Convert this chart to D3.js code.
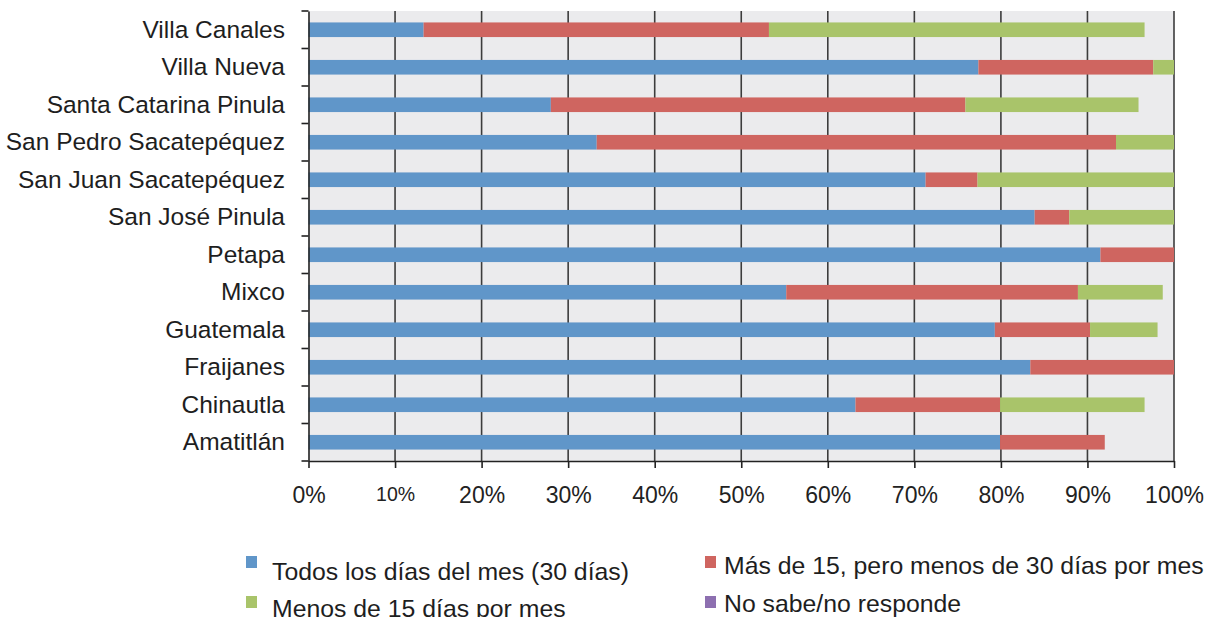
<!DOCTYPE html>
<html>
<head>
<meta charset="utf-8">
<script src="https://cdn.jsdelivr.net/npm/d3@7"></script>
<style>
  body { margin: 0; background: #fff; }
  svg { display: block; font-family: "Liberation Sans", Arial, Helvetica, sans-serif; }
</style>
</head>
<body>
<svg id="chart" width="1207" height="617"></svg>
<script>

// data (percent of respondents)
var municipios = ["Villa Canales", "Villa Nueva", "Santa Catarina Pinula", "San Pedro Sacatepéquez",
  "San Juan Sacatepéquez", "San José Pinula", "Petapa", "Mixco", "Guatemala", "Fraijanes",
  "Chinautla", "Amatitlán"];

var todos   = [13.3, 77.4, 28.0, 33.3, 71.3, 83.9, 91.5, 55.2, 79.3, 83.4, 63.2, 79.9];
var mas15   = [39.9, 20.2, 47.9, 60.0,  6.0,  4.0,  8.5, 33.7, 11.0, 16.6, 16.7, 12.1];
var menos15 = [43.4,  2.4, 20.0,  6.7, 22.7, 12.1,  0.0,  9.8,  7.8,  0.0, 16.7,  0.0];
var nosabe  = [ 0.0,  0.0,  0.0,  0.0,  0.0,  0.0,  0.0,  0.0,  0.0,  0.0,  0.0,  0.0];

var seriesNames = ["Todos los días del mes (30 días)", "Más de 15, pero menos de 30 días por mes",
  "Menos de 15 días por mes", "No sabe/no responde"];
var seriesColors = ["#6096c9", "#cf6560", "#a9c46a", "#8d6fb0"];
var xTicks = [0, 10, 20, 30, 40, 50, 60, 70, 80, 90, 100];

var margin = { left: 308.5, top: 11 };
var w = 865.5, h = 450;

var svg = d3.select("#chart");
var g = svg.append("g").attr("transform", "translate(" + margin.left + "," + margin.top + ")");

var x = d3.scaleLinear().domain([0, 100]).range([0, w]);
var y = d3.scaleBand().domain(municipios).range([0, h]).paddingInner(0.61).paddingOuter(0.305);

// table for the stack
var keys = ["todos", "mas15", "menos15", "nosabe"];
var rows = municipios.map(function(m, i) {
  return { name: m, todos: todos[i], mas15: mas15[i], menos15: menos15[i], nosabe: nosabe[i] };
});
var stacked = d3.stack().keys(keys)(rows);

g.append("rect")
  .attr("width", w).attr("height", h)
  .attr("fill", "#ebebed");

// vertical grid
g.selectAll("line.grid")
  .data(xTicks.slice(1))
  .enter().append("line")
  .attr("class", "grid")
  .attr("x1", function(d) { return x(d); })
  .attr("x2", function(d) { return x(d); })
  .attr("y1", 0).attr("y2", h)
  .attr("stroke", "#3c3c3c")
  .attr("stroke-width", 1.6);

g.selectAll("g.serie")
  .data(stacked)
  .enter().append("g")
  .attr("class", "serie")
  .attr("fill", function(d, i) { return seriesColors[i]; })
  .selectAll("rect")
  .data(function(d) { return d; })
  .enter().append("rect")
  .attr("x", function(d) { return x(d[0]); })
  .attr("width", function(d) { return x(d[1]) - x(d[0]); })
  .attr("y", function(d) { return y(d.data.name); })
  .attr("height", y.bandwidth());

// x axis
var xAxis = g.append("g")
  .attr("transform", "translate(0," + h + ")")
  .call(d3.axisBottom(x).tickValues(xTicks)
    .tickFormat(function(d) { return d + "%"; })
    .tickSize(7).tickPadding(19).tickSizeOuter(0));
xAxis.select(".domain").attr("stroke", "#222").attr("stroke-width", 1.6);
xAxis.selectAll(".tick line").attr("stroke", "#222").attr("stroke-width", 1.6);
xAxis.selectAll("text")
  .attr("font-size", function(d) { return d == 10 ? 19.5 : 23; }) // "10%" is printed smaller in the source
  .attr("fill", "#222")
  .attr("font-family", "\"Liberation Sans\", Arial, sans-serif");

// y axis, labels only; ticks go between the bands
var yAxis = g.append("g")
  .call(d3.axisLeft(y).tickSize(0).tickPadding(23.5));
yAxis.select(".domain").attr("stroke", "#222").attr("stroke-width", 1.6);
yAxis.selectAll("text").attr("font-size", 24.5).attr("fill", "#1e1e1e")
  .attr("font-family", "\"Liberation Sans\", Arial, sans-serif");

var step = y.step();
var bounds = municipios.map(function(m) { return y(m) - step * y.paddingInner() / 2; });
bounds.push(h);
g.selectAll("line.ytick")
  .data(bounds)
  .enter().append("line")
  .attr("class", "ytick")
  .attr("x1", -7).attr("x2", 0)
  .attr("y1", function(d) { return d; })
  .attr("y2", function(d) { return d; })
  .attr("stroke", "#222")
  .attr("stroke-width", 1.6);

// legend, two columns
var legendPos = [[246, 556], [705, 556], [246, 596], [705, 596]];
var textPos = [[272, 580], [724, 574], [272, 617], [724, 612]];
var legend = svg.append("g");
seriesNames.forEach(function(name, i) {
  legend.append("rect")
    .attr("x", legendPos[i][0]).attr("y", legendPos[i][1])
    .attr("width", 11).attr("height", 12)
    .attr("fill", seriesColors[i]);
  legend.append("text")
    .attr("x", textPos[i][0]).attr("y", textPos[i][1])
    .attr("font-size", 24.8)
    .attr("fill", "#1e1e1e")
    .text(name);
});

</script>
</body>
</html>
